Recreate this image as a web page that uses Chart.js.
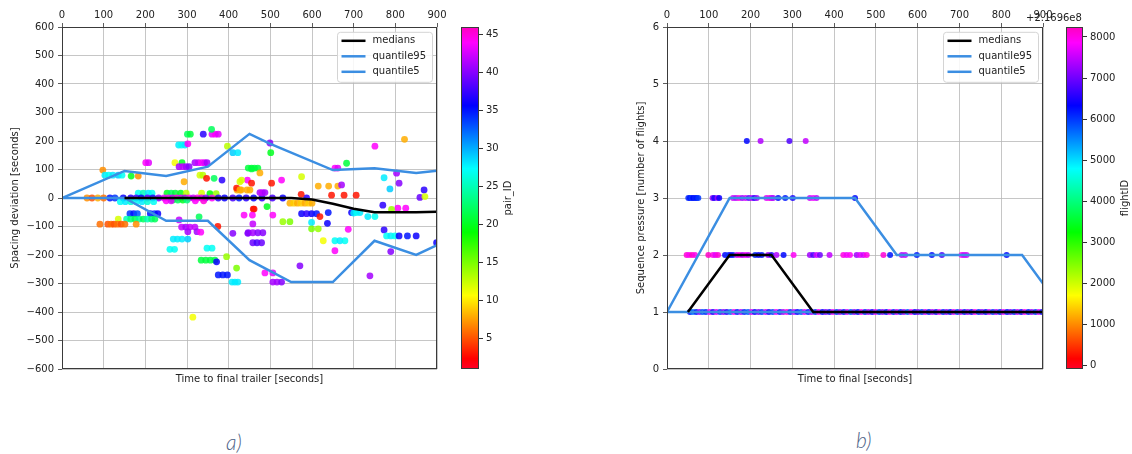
<!DOCTYPE html>
<html>
<head>
<meta charset="utf-8">
<script src="https://cdn.jsdelivr.net/npm/chart.js@4.4.1/dist/chart.umd.min.js"></script>
<style>
body { margin: 0; background: #fff; width: 1132px; height: 454px; position: relative; overflow: hidden; font-family: 'DejaVu Sans', sans-serif; }
canvas { position: absolute; top: 0; }
.lbl { position: absolute; font-size: 10px; color: #222; white-space: nowrap; }
.cap { position: absolute; font-family: Lato, sans-serif; font-style: italic; font-weight: 300; font-size: 21px; color: #4f6488; }
</style>
</head>
<body>
<canvas id="chartA" width="455" height="389" style="left:0"></canvas>
<canvas id="barA" width="60" height="389" style="left:455px"></canvas>
<canvas id="chartB" width="441" height="389" style="left:620px"></canvas>
<canvas id="barB" width="71" height="389" style="left:1061px"></canvas>
<div class="lbl" style="left:1026px;top:12px">+2.1696e8</div>
<div class="cap" style="left:226px;top:429px">a)</div>
<div class="cap" style="left:856px;top:427px">b)</div>
<script>
// tick labels
const timeTicks = [0, 100, 200, 300, 400, 500, 600, 700, 800, 900];
const deviationTicks = [-600, -500, -400, -300, -200, -100, 0, 100, 200, 300, 400, 500, 600];
const pressureTicks = [0, 1, 2, 3, 4, 5, 6];
const pairTicks = [5, 10, 15, 20, 25, 30, 35, 40, 45];
const flightTicks = [0, 1000, 2000, 3000, 4000, 5000, 6000, 7000, 8000];
const pairRange = [1, 46];
const flightRange = [-80, 8243];

// a) spacing deviation lines
const binsA = [0, 150, 250, 350, 450, 500, 550, 600, 650, 700, 750, 800, 850, 900];
const mediansA = [null, 0, 0, 0, 0, 0, 0, -5, -20, -38, -50, -50, -50, -48];
const q95A = [0, 95, 77, 110, 225, 190, null, null, 98, null, 104, null, 88, 96];
const q5A = [0, 0, -80, -80, -218, null, -295, null, -295, null, -150, null, -200, -165];

// a) points: [time, deviation, pair_ID]
const spacingPoints = [
  [183,17,27],[195,17,25],[207,17,28],[216,17,27],[252,17,20],[262,17,22],[272,17,21],[285,17,20],[298,17,13],[335,17,12],[355,15,19],[370,15,14],
  [60,0,7],[72,0,5],[86,0,8],[100,0,6],[115,0,35],[127,0,34],[147,0,36],[165,0,37],[178,0,38],[190,0,36],[205,0,39],[218,0,37],[232,0,40],[245,0,43],
  [255,0,44],[265,0,42],[275,0,45],[285,0,43],[295,0,41],[305,0,44],[315,0,42],[325,0,45],[335,0,43],[345,0,40],[360,0,44],[375,0,37],[390,0,36],
  [410,0,38],[425,0,35],[442,0,37],[460,0,36],[480,0,37],[505,0,38],[530,0,36],[587,0,37],
  [140,-13,27],[152,-13,28],[165,-13,26],[178,-13,27],[192,-13,28],[205,-13,26],[220,-13,27],[266,-7,21],[278,-7,22],[290,-7,20],[300,-7,23],
  [250,-10,44],[262,-10,43],[320,-10,44],[340,-10,45],
  [163,-55,34],[172,-55,35],[181,-55,33],[212,-55,35],[222,-55,34],[230,-55,36],
  [135,-74,12],[155,-74,25],[165,-74,23],[175,-74,22],[185,-74,24],[195,-74,22],[205,-74,25],[215,-74,23],[223,-74,22],
  [91,-92,6],[110,-92,5],[118,-92,6],[125,-92,5],[133,-92,6],[142,-92,5],[151,-92,6],[178,-92,7],
  [281,-77,42],[329,-66,22],[374,-100,3],
  [287,-102,42],[297,-102,41],[307,-102,42],[319,-102,42],[302,-118,41],[324,-118,41],[333,-120,44],
  [267,-144,28],[277,-144,28],[288,-144,28],[302,-144,29],
  [259,-180,27],[270,-180,27],[348,-176,27],[360,-176,27],
  [334,-218,21],[345,-218,21],[356,-218,21],[367,-218,21],[371,-224,36],
  [375,-270,35],[386,-270,35],[397,-270,35],
  [408,-295,28],[415,-295,28],[422,-295,28],
  [395,-206,14],[419,-246,15],[314,-418,11],
  [410,-124,40],[446,-124,40],[459,-39,3],[437,-60,44],
  [98,98,7],[103,80,28],[112,80,27],[122,80,28],[135,80,29],[144,80,27],[166,77,20],[183,77,7],[201,124,44],[208,124,43],
  [280,186,28],[287,186,27],[295,186,28],[302,190,44],[301,224,22],[308,224,21],[339,224,37],[360,224,43],[368,224,44],[375,224,43],[359,241,22],
  [319,124,41],[327,124,42],[335,124,44],[342,124,43],[348,124,41],[271,124,11],[288,124,20],
  [281,110,41],[290,110,42],[298,110,41],[305,110,40],
  [331,80,12],[338,80,13],[293,57,8],[347,69,3],[365,69,22],[384,63,37],
  [397,182,13],[410,159,29],[422,159,28],[455,102,21],[427,57,12],
  [420,28,8],[430,28,8],[444,28,8],[419,35,3],[445,63,44],
  [499,193,40],[501,159,20],[447,105,21],[455,105,21],[462,105,21],[470,105,21],[475,88,8],[431,63,12],[455,52,3],[503,52,3],[527,63,44],[575,75,12],
  [427,28,8],[451,28,8],[475,19,41],[481,19,42],[487,19,41],
  [547,-18,8],[556,-18,9],[565,-18,8],[574,-18,9],[583,-18,8],[592,-18,9],[600,-18,8],
  [615,42,8],[640,42,8],[662,42,8],[671,46,41],
  [574,13,3],[647,10,3],[677,10,3],[706,10,3],
  [575,-55,36],[587,-55,37],[599,-55,36],[611,-55,35],[639,-51,35],[695,-51,36],[700,-53,28],
  [461,-39,3],[492,-30,20],[457,-60,44],[506,-60,44],[458,-91,42],[619,-65,3],
  [530,-83,14],[547,-83,15],[599,-86,28],[599,-108,15],[615,-108,14],[637,-89,36],[687,-110,44],
  [447,-122,40],[458,-122,41],[470,-122,40],[482,-122,40],
  [458,-157,39],[468,-157,38],[479,-157,39],
  [627,-150,11],[655,-150,27],[667,-150,28],[679,-150,27],[655,-185,44],
  [571,-238,40],[487,-263,44],[506,-263,43],[506,-295,41],[516,-295,41],[527,-295,40],[739,-273,41],
  [751,182,44],[822,206,8],[683,122,21],[655,105,44],[662,105,43],[773,71,28],[787,32,29],[803,87,41],[809,52,40],[869,28,37],[859,2,39],[871,5,12],
  [770,-25,37],[806,-36,44],[825,-36,44],[791,-40,14],[707,-51,27],[715,-51,28],[734,-65,28],[751,-65,27],
  [773,-112,37],[779,-133,27],[789,-133,28],[799,-133,27],[809,-133,36],[829,-133,35],[850,-133,36],
  [789,-188,40],[899,-157,36]
];

// b) sequence pressure lines
const binsB = [0, 50, 150, 250, 350, 450, 550, 850, 900];
const mediansB = [null, 1, 2, 2, 1, 1, 1, 1, 1];
const q95B = [1, null, 3, 3, null, 3, 2, 2, 1.5];
const q5B = [1, 1, 1, 1, 1, 1, 1, 1, 1];

// b) points: [time, pressure, flightID - 2.1696e8]
const pressurePoints = [
  [191,4,6300],[224,4,7400],[293,4,6800],[332,4,7500],
  [51,3,6100],[55,3,6200],[59,3,6000],[63,3,6300],[67,3,6100],[71,3,6200],[75,3,6000],[109,3,7200],[113,3,6500],[121,3,7300],[125,3,6400],
  [158,3,7600],[165,3,7400],[172,3,8000],[180,3,7300],[188,3,7600],[196,3,6900],[203,3,7500],[209,3,6500],[215,3,7300],
  [238,3,7700],[245,3,8000],[250,3,7600],[254,3,7400],[266,3,6300],[283,3,6200],[301,3,6500],[342,3,7600],[350,3,7800],[358,3,7500],[450,3,6300],
  [47,2,8100],[53,2,7900],[60,2,8200],[67,2,8000],[99,2,8200],[110,2,8000],[116,2,7700],[122,2,8100],[139,2,6300],[147,2,6000],[152,2,6500],[158,2,6200],
  [167,2,7600],[174,2,8000],[181,2,7400],[188,2,7800],[195,2,7500],[211,2,6100],[219,2,6400],[227,2,6200],[242,2,7300],[250,2,6500],[262,2,7400],
  [279,2,6300],[303,2,7900],[342,2,7300],[350,2,6800],[358,2,7600],[366,2,7000],[389,2,7500],[422,2,8000],[430,2,7800],[438,2,7900],[454,2,7300],
  [462,2,7700],[470,2,7600],[478,2,8000],[518,2,8100],[534,2,6200],[562,2,7400],[570,2,7500],[598,2,6200],[634,2,6300],[658,2,6800],
  [705,2,7900],[711,2,7500],[717,2,7600],[813,2,6300],
  [55,1,6300],[62,1,5600],[70,1,6200],[78,1,7300],[85,1,5800],[93,1,6100],[102,1,7800],[110,1,6400],[118,1,7600],[127,1,6000],[135,1,7200],
  [143,1,6500],[152,1,5700],[160,1,7900],[168,1,6200],[177,1,7400],[185,1,6100],[194,1,5800],[202,1,7700],[210,1,6300],[219,1,7100],[227,1,6000],
  [236,1,7600],[244,1,6400],[253,1,5900],[261,1,7800],[270,1,6200],[278,1,7300],[287,1,8000],[295,1,6100],[304,1,7500],[312,1,6300],[321,1,5800],
  [329,1,7700],[338,1,6200],[346,1,7400],[355,1,6000],[363,1,7900],[372,1,6300],[380,1,7100],[389,1,6500],[397,1,7800],[406,1,6000],[414,1,7300],
  [423,1,6200],[431,1,7600],[440,1,5800],[448,1,7200],[457,1,6300],[465,1,7900],[474,1,6100],[482,1,7400],[491,1,6400],[499,1,7700],[508,1,6000],
  [516,1,7200],[525,1,6300],[533,1,7800],[542,1,6100],[550,1,7500],[559,1,6200],[567,1,7300],[576,1,5800],[584,1,7900],[593,1,6300],[601,1,7100],
  [610,1,6000],[618,1,7600],[627,1,6200],[635,1,7400],[644,1,6500],[652,1,7800],[661,1,6100],[669,1,7200],[678,1,6300],[686,1,7700],[695,1,6000],
  [703,1,7500],[712,1,6200],[720,1,7300],[729,1,6400],[737,1,7900],[746,1,6100],[754,1,7200],[763,1,6300],[771,1,7600],[780,1,6000],[788,1,7400],
  [797,1,6200],[805,1,7800],[814,1,6300],[822,1,7100],[831,1,6100],[839,1,7500],[848,1,6400],[856,1,7900],[865,1,6200],[873,1,7300],[882,1,6000],
  [890,1,7700],[898,1,6300]
];

Chart.defaults.font.family = "'DejaVu Sans', sans-serif";
Chart.defaults.font.size = 10;
Chart.defaults.color = '#222';

const qBlue = '#3b8ee2';
const gridColor = '#b8b8b8';

// gist_rainbow colormap
const rainbowStops = [[0, [255, 0, 41]], [0.03, [255, 0, 0]], [0.215, [255, 255, 0]], [0.4, [0, 255, 0]],
  [0.586, [0, 255, 255]], [0.77, [0, 0, 255]], [0.954, [255, 0, 255]], [1, [255, 0, 191]]];

function rainbow(t, alpha) {
  t = Math.min(1, Math.max(0, t));
  for (let i = 1; i < rainbowStops.length; i++) {
    const [t1, c1] = rainbowStops[i];
    const [t0, c0] = rainbowStops[i - 1];
    if (t <= t1) {
      const f = (t - t0) / (t1 - t0);
      const c = c0.map((v, k) => Math.round(v + (c1[k] - v) * f));
      return `rgba(${c[0]},${c[1]},${c[2]},${alpha})`;
    }
  }
}

function fmt(v) { return String(v).replace('-', '\u2212'); }
function toXY(xs, ys) { return xs.map((x, i) => ({ x: x, y: ys[i] })); }

const framePlugin = {
  id: 'frame',
  afterDatasetsDraw(chart) {
    const a = chart.chartArea, c = chart.ctx;
    c.save();
    c.strokeStyle = '#3a3a3a';
    c.lineWidth = 1;
    c.strokeRect(a.left + 0.5, a.top + 0.5, a.right - a.left - 1, a.bottom - a.top - 1);
    c.restore();
  }
};

const legendPlugin = {
  id: 'boxLegend',
  afterDatasetsDraw(chart) {
    const items = chart.data.datasets.filter(d => d.inLegend);
    const a = chart.chartArea, c = chart.ctx;
    const w = 95, h = 50, x = a.right - 4.5 - w, y = a.top + 5.3;
    c.save();
    c.beginPath();
    c.roundRect(x, y, w, h, 3);
    c.fillStyle = 'rgba(255,255,255,0.85)';
    c.fill();
    c.strokeStyle = '#d4d4d4';
    c.lineWidth = 1;
    c.stroke();
    c.font = "10px 'DejaVu Sans'";
    c.textBaseline = 'middle';
    c.fillStyle = '#222';
    items.forEach((d, i) => {
      const yy = y + 8.5 + i * 15.5;
      c.strokeStyle = d.borderColor;
      c.lineWidth = d.borderWidth;
      c.beginPath();
      c.moveTo(x + 4, yy);
      c.lineTo(x + 28, yy);
      c.stroke();
      c.fillText(d.label, x + 35, yy);
    });
    c.restore();
  }
};

// colorbar label, reading bottom to top like matplotlib
const sideLabelPlugin = {
  id: 'sideLabel',
  afterDraw(chart, args, opts) {
    const c = chart.ctx, a = chart.chartArea;
    c.save();
    c.translate(opts.x, (a.top + a.bottom) / 2);
    c.rotate(-Math.PI / 2);
    c.font = "10px 'DejaVu Sans'";
    c.fillStyle = '#222';
    c.textAlign = 'center';
    c.textBaseline = 'middle';
    c.fillText(opts.text, 0, 0);
    c.restore();
  }
};

function mainChart(id, o) {
  const lineDs = (label, ys, color) => ({
    type: 'line', label: label, data: toXY(o.bins, ys), borderColor: color, borderWidth: 2.5,
    pointRadius: 0, spanGaps: true, tension: 0, order: 0, inLegend: true
  });
  return new Chart(document.getElementById(id), {
    type: 'scatter',
    data: {
      datasets: [
        lineDs('medians', o.med, '#000'),
        lineDs('quantile95', o.q95, qBlue),
        lineDs('quantile5', o.q5, qBlue),
        {
          label: 'points',
          data: o.points.map(p => ({ x: p[0], y: p[1] })),
          backgroundColor: o.points.map(p => rainbow((p[2] - o.cmin) / (o.cmax - o.cmin), 0.85)),
          borderWidth: 0,
          pointRadius: o.r,
          order: 1
        }
      ]
    },
    options: {
      responsive: false,
      animation: false,
      layout: { padding: { right: 18 } },
      plugins: { legend: { display: false }, tooltip: { enabled: false } },
      scales: {
        x: {
          type: 'linear', position: 'top', min: 0, max: 900,
          afterBuildTicks: s => { s.ticks = timeTicks.map(v => ({ value: v })); },
          afterFit: s => { s.height = 27; },
          ticks: { maxRotation: 0, padding: 2, callback: fmt },
          grid: { color: gridColor, lineWidth: 0.8, tickColor: '#333', tickLength: 4 },
          border: { display: false }
        },
        xb: {
          type: 'linear', position: 'bottom', min: 0, max: 900,
          afterFit: s => { s.height = 20; },
          ticks: { display: false },
          grid: { display: false },
          border: { display: false },
          title: { display: true, text: o.xTitle, padding: { top: 4, bottom: 4 } }
        },
        y: {
          type: 'linear', position: 'left', min: o.yTicks[0], max: o.yTicks[o.yTicks.length - 1],
          afterBuildTicks: s => { s.ticks = o.yTicks.map(v => ({ value: v })); },
          afterFit: s => { s.width = o.yw; },
          ticks: { padding: 4, callback: fmt },
          grid: { color: gridColor, lineWidth: 0.8, tickColor: '#333', tickLength: 4 },
          border: { display: false },
          title: { display: true, text: o.yTitle, padding: { top: o.yTitlePad, bottom: 4 } }
        }
      }
    },
    plugins: [framePlugin, legendPlugin]
  });
}

function colorBar(id, range, ticks, padLeft, axisW, label, labelX) {
  return new Chart(document.getElementById(id), {
    type: 'bar',
    data: {
      labels: [''],
      datasets: [{
        data: [range],
        backgroundColor: c => {
          const a = c.chart.chartArea;
          if (!a) return 'transparent';
          const g = c.chart.ctx.createLinearGradient(0, a.bottom, 0, a.top);
          rainbowStops.forEach(([t, rgb]) => g.addColorStop(t, `rgb(${rgb})`));
          return g;
        },
        borderWidth: 0,
        barPercentage: 1,
        categoryPercentage: 1
      }]
    },
    options: {
      responsive: false,
      animation: false,
      layout: { padding: { left: padLeft, top: 27, bottom: 20, right: 0 } },
      plugins: { legend: { display: false }, tooltip: { enabled: false }, sideLabel: { text: label, x: labelX } },
      scales: {
        x: { display: false },
        y: {
          position: 'right', min: range[0], max: range[1],
          afterBuildTicks: s => { s.ticks = ticks.map(v => ({ value: v })); },
          afterFit: s => { s.width = axisW; },
          ticks: { padding: 3, callback: fmt },
          grid: { drawOnChartArea: false, tickColor: '#333', tickLength: 4 },
          border: { display: false }
        }
      }
    },
    plugins: [framePlugin, sideLabelPlugin]
  });
}

mainChart('chartA', {
  bins: binsA, med: mediansA, q95: q95A, q5: q5A, points: spacingPoints,
  cmin: pairRange[0], cmax: pairRange[1], r: 3.4,
  yTicks: deviationTicks, yw: 62, yTitlePad: 9,
  xTitle: 'Time to final trailer [seconds]', yTitle: 'Spacing deviation [seconds]'
});
colorBar('barA', pairRange, pairTicks, 6, 36, 'pair_ID', 53);

mainChart('chartB', {
  bins: binsB, med: mediansB, q95: q95B, q5: q5B, points: pressurePoints,
  cmin: flightRange[0], cmax: flightRange[1], r: 3,
  yTicks: pressureTicks, yw: 47, yTitlePad: 15,
  xTitle: 'Time to final [seconds]', yTitle: 'Sequence pressure [number of flights]'
});
colorBar('barB', flightRange, flightTicks, 5, 49, 'flightID', 64);
</script>
</body>
</html>
